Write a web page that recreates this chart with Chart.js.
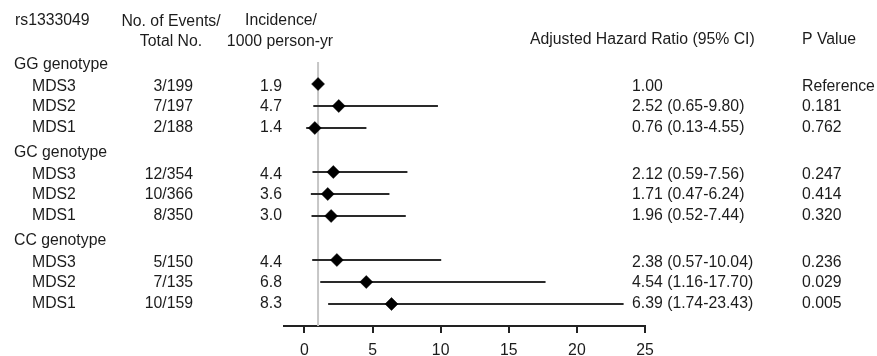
<!DOCTYPE html>
<html>
<head>
<meta charset="utf-8">
<script src="https://cdn.jsdelivr.net/npm/chart.js@4/dist/chart.umd.min.js"></script>
<style>
  html, body { margin: 0; padding: 0; background: #fff; }
  #wrap { width: 877px; height: 356px; }
</style>
</head>
<body>
<div id="wrap"><canvas id="chart" width="877" height="356"></canvas></div>
<script>
// data
const genotypes = ['GG genotype', 'GC genotype', 'CC genotype'];
const scores = ['MDS3', 'MDS2', 'MDS1'];
const events = ['3/199', '7/197', '2/188', '12/354', '10/366', '8/350', '5/150', '7/135', '10/159'];
const incidence = ['1.9', '4.7', '1.4', '4.4', '3.6', '3.0', '4.4', '6.8', '8.3'];
const hazardRatio = [1.00, 2.52, 0.76, 2.12, 1.71, 1.96, 2.38, 4.54, 6.39];
const ciLow = [null, 0.65, 0.13, 0.59, 0.47, 0.52, 0.57, 1.16, 1.74];
const ciHigh = [null, 9.80, 4.55, 7.56, 6.24, 7.44, 10.04, 17.70, 23.43];
const pValues = ['Reference', '0.181', '0.762', '0.247', '0.414', '0.320', '0.236', '0.029', '0.005'];
const xTicks = [0, 5, 10, 15, 20, 25];

const FAMILY = '"Liberation Sans", Arial, sans-serif';
const FONT = '15.8px ' + FAMILY;
const INK = '#1c1c1c';

// row index on the y scale: 3 rows per genotype, plus a header row
function rowOf(i) { return Math.floor(i / 3) * 4 + (i % 3) + 1; }

function hrLabel(i) {
    if (ciLow[i] === null) return hazardRatio[i].toFixed(2);
    return hazardRatio[i].toFixed(2) + ' (' + ciLow[i].toFixed(2) + '-' + ciHigh[i].toFixed(2) + ')';
}

var datasets = [];

// diamonds
datasets.push({
    type: 'scatter',
    data: hazardRatio.map(function (v, i) { return { x: v, y: rowOf(i) }; }),
    pointStyle: 'rectRot',
    pointRadius: 6.5,
    backgroundColor: '#000',
    borderColor: '#000',
    borderWidth: 0.5,
    order: 0
});

// confidence intervals
hazardRatio.forEach(function (v, i) {
    if (ciLow[i] === null) return;
    datasets.push({
        type: 'line',
        data: [{ x: ciLow[i], y: rowOf(i) }, { x: ciHigh[i], y: rowOf(i) }],
        borderColor: '#2a2a2a',
        borderWidth: 2,
        pointRadius: 0,
        order: 1
    });
});

// reference line at HR = 1
datasets.push({
    type: 'line',
    data: [{ x: 1, y: 0 }, { x: 1, y: 12 }],
    borderColor: '#c6c6c6',
    borderWidth: 2,
    pointRadius: 0,
    order: 2
});

var textPlugin = {
    id: 'tableText',
    afterDraw: function (chart) {
        var ctx = chart.ctx;
        var ys = chart.scales.y;
        ctx.save();
        ctx.font = FONT;
        ctx.fillStyle = INK;
        ctx.textBaseline = 'middle';

        function put(t, x, y, align) {
            ctx.textAlign = align || 'left';
            ctx.fillText(t, x, y);
        }

        // column headers
        put('rs1333049', 15, 21);
        put('No. of Events/', 171, 22, 'center');
        put('Total No.', 171, 42, 'center');
        put('Incidence/', 281, 21, 'center');
        put('1000 person-yr', 280, 42, 'center');
        put('Adjusted Hazard Ratio (95% CI)', 530, 40);
        put('P Value', 802, 40);

        genotypes.forEach(function (g, gi) {
            var mid = ys.getPixelForValue(gi * 4 + 2);
            put(g, 14, mid - 41);
            scores.forEach(function (s, j) {
                var i = gi * 3 + j;
                var y = mid + (j - 1) * 20.5 + 1;
                put(s, 32, y);
                put(events[i], 193, y, 'right');
                put(incidence[i], 282, y, 'right');
                put(hrLabel(i), 632, y);
                put(pValues[i], 802, y);
            });
        });
        ctx.restore();
    }
};

new Chart('chart', {
    data: { datasets: datasets },
    options: {
        responsive: false,
        animation: false,
        layout: { padding: { left: 284, right: 232, top: 0, bottom: 0 } },
        plugins: {
            legend: { display: false },
            tooltip: { enabled: false }
        },
        scales: {
            x: {
                type: 'linear',
                min: -1.5,
                max: 25,
                afterBuildTicks: function (scale) {
                    scale.ticks = xTicks.map(function (v) { return { value: v }; });
                },
                afterFit: function (scale) { scale.height = 30; },
                grid: {
                    drawOnChartArea: false,
                    drawTicks: true,
                    tickLength: 7,
                    color: '#222',
                    lineWidth: 2
                },
                border: { display: true, color: '#222', width: 2 },
                ticks: {
                    padding: 8,
                    color: INK,
                    font: { family: FAMILY, size: 15.8 },
                    maxRotation: 0
                }
            },
            y: {
                type: 'linear',
                display: false,
                reverse: true,
                min: -2.5,
                max: 12
            }
        }
    },
    plugins: [textPlugin]
});
</script>
</body>
</html>
